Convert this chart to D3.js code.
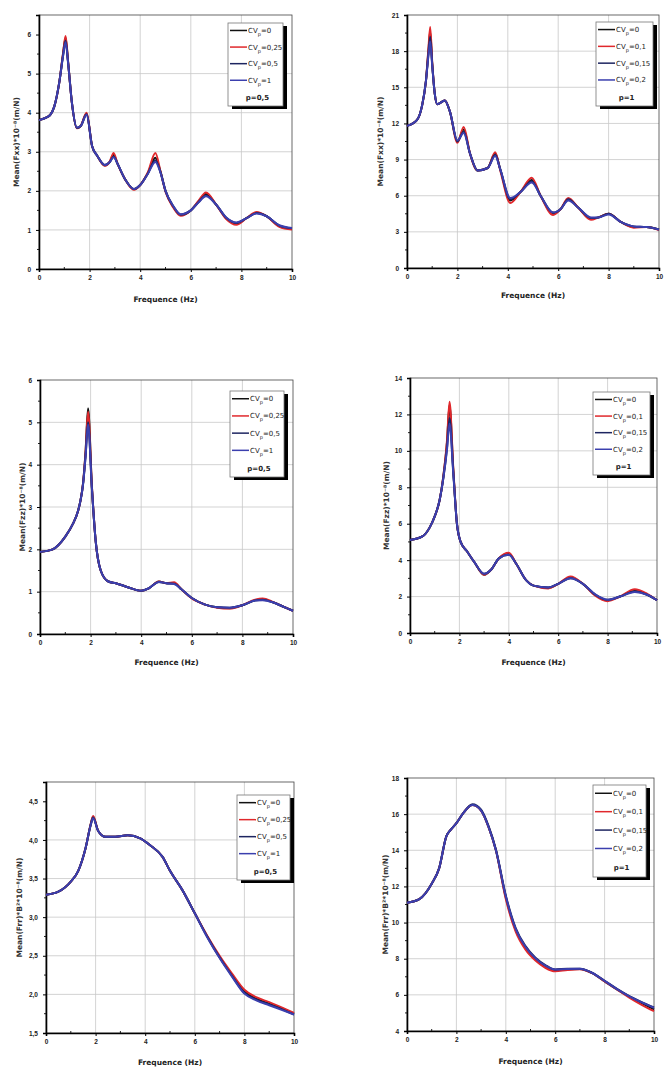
<!DOCTYPE html>
<html>
<head>
<meta charset="utf-8">
<script src="https://cdn.jsdelivr.net/npm/d3@7"></script>
<style>
  body { margin: 0; background: #fff; }
  svg { display: block; font-family: "DejaVu Sans", sans-serif; }
</style>
</head>
<body>
<svg id="chart"></svg>
<script>
// ---- data ----
const xTicks = [0, 2, 4, 6, 8, 10];
const seriesColors = ["#111111", "#e0282c", "#1d2560", "#3b3fae"];

const legendA = ["0", "0,25", "0,5", "1"];
const legendB = ["0", "0,1", "0,15", "0,2"];

// panel 1 : Fxx, p=0,5
const p1Freq = [0, 0.3, 0.45, 0.6, 0.8, 0.95, 1.05, 1.15, 1.3, 1.5, 1.65, 1.88, 2.1, 2.3, 2.6, 2.8, 2.95, 3.1, 3.4, 3.75, 4.0, 4.3, 4.6, 4.8, 5.0, 5.3, 5.6, 6.0, 6.3, 6.6, 7.0, 7.4, 7.8, 8.2, 8.6, 9.0, 9.5, 10];
const p1Cv0 = [3.81, 3.88, 3.95, 4.15, 4.77, 5.5, 5.92, 5.3, 4.26, 3.61, 3.66, 3.98, 3.14, 2.9, 2.65, 2.74, 2.92, 2.7, 2.3, 2.04, 2.15, 2.45, 2.85, 2.5, 2.0, 1.6, 1.38, 1.5, 1.72, 1.92, 1.65, 1.3, 1.16, 1.3, 1.44, 1.35, 1.1, 1.03];
const p1Cv1 = [3.81, 3.88, 3.95, 4.15, 4.77, 5.52, 5.96, 5.3, 4.26, 3.6, 3.66, 4.0, 3.14, 2.9, 2.64, 2.76, 2.97, 2.7, 2.3, 2.03, 2.15, 2.47, 2.97, 2.5, 1.98, 1.58, 1.36, 1.5, 1.74, 1.96, 1.65, 1.28, 1.13, 1.3, 1.46, 1.35, 1.08, 1.01];
const p1Cv2 = [3.81, 3.88, 3.95, 4.15, 4.77, 5.46, 5.85, 5.28, 4.26, 3.61, 3.66, 3.96, 3.14, 2.9, 2.66, 2.74, 2.88, 2.7, 2.3, 2.05, 2.15, 2.44, 2.78, 2.48, 2.0, 1.61, 1.39, 1.5, 1.71, 1.88, 1.65, 1.31, 1.18, 1.3, 1.43, 1.35, 1.11, 1.04];
const p1Cv3 = [3.81, 3.88, 3.95, 4.15, 4.77, 5.44, 5.8, 5.27, 4.26, 3.62, 3.66, 3.95, 3.14, 2.9, 2.66, 2.74, 2.86, 2.7, 2.3, 2.05, 2.15, 2.43, 2.74, 2.47, 2.0, 1.62, 1.4, 1.5, 1.7, 1.86, 1.65, 1.32, 1.19, 1.3, 1.42, 1.35, 1.12, 1.05];

// panel 2 : Fxx, p=1
const p2Freq = [0, 0.4, 0.6, 0.75, 0.85, 0.92, 1.0, 1.1, 1.2, 1.5, 1.7, 2.0, 2.25, 2.5, 2.8, 3.2, 3.5, 3.7, 4.1, 4.5, 4.95, 5.3, 5.8, 6.1, 6.4, 6.8, 7.3, 7.6, 8.0, 8.5, 9.0, 9.5, 10];
const p2Cv0 = [11.8, 12.3, 13.5, 15.5, 18.0, 19.6, 17.0, 14.5, 13.6, 13.9, 13.0, 10.5, 11.5, 9.5, 8.1, 8.3, 9.5, 8.2, 5.6, 6.3, 7.3, 6.0, 4.5, 4.9, 5.7, 5.0, 4.1, 4.2, 4.5, 3.8, 3.4, 3.4, 3.2];
const p2Cv1 = [11.8, 12.3, 13.5, 15.5, 18.2, 20.0, 17.1, 14.5, 13.6, 13.9, 13.0, 10.4, 11.7, 9.5, 8.1, 8.3, 9.6, 8.1, 5.4, 6.3, 7.5, 6.0, 4.4, 4.9, 5.8, 5.0, 4.0, 4.2, 4.5, 3.8, 3.35, 3.4, 3.15];
const p2Cv2 = [11.8, 12.3, 13.5, 15.5, 17.8, 19.2, 16.9, 14.5, 13.6, 13.9, 13.0, 10.5, 11.3, 9.5, 8.1, 8.3, 9.4, 8.2, 5.7, 6.3, 7.2, 6.0, 4.6, 4.9, 5.7, 5.0, 4.15, 4.2, 4.5, 3.8, 3.45, 3.4, 3.2];
const p2Cv3 = [11.8, 12.3, 13.5, 15.5, 17.6, 18.8, 16.8, 14.5, 13.6, 13.9, 13.0, 10.6, 11.2, 9.5, 8.1, 8.3, 9.3, 8.2, 5.8, 6.3, 7.1, 6.0, 4.6, 4.9, 5.6, 5.0, 4.2, 4.2, 4.45, 3.8, 3.45, 3.4, 3.2];

// panel 3 : Fzz, p=0,5
const p3Freq = [0, 0.5, 1.0, 1.3, 1.5, 1.6, 1.7, 1.8, 1.9, 2.05, 2.2, 2.4, 2.7, 3.0, 3.5, 4.0, 4.3, 4.7, 5.0, 5.3, 5.6, 6.0, 6.5, 7.0, 7.5, 8.0, 8.5, 8.8, 9.2, 9.6, 10];
const p3Cv0 = [1.94, 2.0, 2.3, 2.6, 2.9, 3.15, 3.55, 4.3, 5.33, 3.5, 2.2, 1.5, 1.24, 1.2, 1.1, 1.02, 1.08, 1.24, 1.2, 1.2, 1.05, 0.85, 0.7, 0.63, 0.61, 0.68, 0.8, 0.82, 0.75, 0.65, 0.55];
const p3Cv1 = [1.94, 2.0, 2.3, 2.6, 2.9, 3.15, 3.55, 4.28, 5.25, 3.5, 2.2, 1.5, 1.24, 1.2, 1.1, 1.02, 1.08, 1.24, 1.2, 1.22, 1.05, 0.84, 0.7, 0.62, 0.6, 0.68, 0.81, 0.84, 0.76, 0.65, 0.55];
const p3Cv2 = [1.94, 2.0, 2.3, 2.6, 2.9, 3.15, 3.53, 4.2, 5.0, 3.45, 2.2, 1.5, 1.24, 1.2, 1.1, 1.02, 1.08, 1.23, 1.2, 1.19, 1.05, 0.85, 0.7, 0.63, 0.62, 0.68, 0.79, 0.81, 0.75, 0.65, 0.55];
const p3Cv3 = [1.94, 2.0, 2.3, 2.6, 2.9, 3.15, 3.52, 4.18, 4.95, 3.45, 2.2, 1.5, 1.24, 1.2, 1.1, 1.02, 1.08, 1.23, 1.2, 1.18, 1.05, 0.85, 0.7, 0.63, 0.62, 0.68, 0.79, 0.8, 0.75, 0.65, 0.55];

// panel 4 : Fzz, p=1
const p4Freq = [0, 0.5, 0.8, 1.0, 1.2, 1.35, 1.5, 1.6, 1.75, 1.9, 2.05, 2.3, 2.6, 3.0, 3.3, 3.6, 4.0, 4.3, 4.7, 5.0, 5.6, 6.0, 6.5, 7.0, 7.5, 8.0, 8.5, 9.1, 9.6, 10];
const p4Cv0 = [5.1, 5.3, 5.8, 6.4, 7.3, 8.6, 10.5, 12.5, 9.0, 6.0, 5.0, 4.5, 3.9, 3.2, 3.5, 4.1, 4.35, 3.8, 2.9, 2.6, 2.48, 2.7, 3.05, 2.7, 2.1, 1.8, 2.0, 2.3, 2.1, 1.8];
const p4Cv1 = [5.1, 5.3, 5.8, 6.4, 7.3, 8.6, 10.6, 12.7, 9.1, 6.0, 5.0, 4.5, 3.9, 3.2, 3.5, 4.1, 4.4, 3.8, 2.9, 2.6, 2.45, 2.7, 3.1, 2.7, 2.05, 1.75, 2.0, 2.4, 2.15, 1.8];
const p4Cv2 = [5.1, 5.3, 5.8, 6.4, 7.3, 8.5, 10.2, 11.8, 8.9, 6.0, 5.0, 4.5, 3.9, 3.25, 3.5, 4.1, 4.3, 3.8, 2.9, 2.6, 2.5, 2.7, 3.0, 2.7, 2.1, 1.82, 2.0, 2.28, 2.1, 1.8];
const p4Cv3 = [5.1, 5.3, 5.8, 6.4, 7.3, 8.5, 10.1, 11.5, 8.8, 6.0, 5.0, 4.5, 3.9, 3.25, 3.5, 4.1, 4.3, 3.8, 2.9, 2.6, 2.5, 2.7, 3.0, 2.7, 2.12, 1.83, 2.0, 2.25, 2.1, 1.8];

// panel 5 : Frr, p=0,5
const p5Freq = [0, 0.5, 1.0, 1.3, 1.6, 1.8, 1.9, 2.1, 2.4, 2.8, 3.3, 3.8, 4.2, 4.7, 5.0, 5.5, 6.0, 6.5, 7.0, 7.5, 8.0, 8.5, 9.0, 9.5, 10];
const p5Cv0 = [3.29, 3.33, 3.46, 3.6, 3.9, 4.2, 4.3, 4.12, 4.04, 4.04, 4.06, 4.02, 3.93, 3.78, 3.6, 3.35, 3.05, 2.75, 2.48, 2.25, 2.04, 1.94, 1.88, 1.82, 1.75];
const p5Cv1 = [3.29, 3.33, 3.46, 3.6, 3.9, 4.2, 4.31, 4.12, 4.04, 4.04, 4.06, 4.02, 3.93, 3.78, 3.6, 3.35, 3.05, 2.76, 2.5, 2.27, 2.06, 1.96, 1.9, 1.83, 1.76];
const p5Cv2 = [3.29, 3.33, 3.46, 3.6, 3.9, 4.19, 4.29, 4.12, 4.04, 4.04, 4.06, 4.02, 3.93, 3.78, 3.6, 3.35, 3.05, 2.75, 2.48, 2.24, 2.02, 1.93, 1.87, 1.81, 1.74];
const p5Cv3 = [3.29, 3.33, 3.46, 3.6, 3.9, 4.19, 4.28, 4.12, 4.04, 4.04, 4.06, 4.02, 3.93, 3.78, 3.6, 3.35, 3.05, 2.74, 2.47, 2.23, 2.01, 1.92, 1.86, 1.8, 1.74];

// panel 6 : Frr, p=1
const p6Freq = [0, 0.5, 1.0, 1.3, 1.6, 1.75, 2.0, 2.3, 2.65, 3.0, 3.3, 3.6, 4.0, 4.4, 4.8, 5.2, 5.6, 6.0, 6.5, 7.0, 7.5, 8.0, 8.5, 9.0, 9.5, 10];
const p6Cv0 = [11.1, 11.3, 12.15, 13.0, 14.8, 15.1, 15.5, 16.1, 16.5, 16.2, 15.3, 14.0, 11.4, 9.6, 8.6, 8.0, 7.6, 7.38, 7.42, 7.43, 7.2, 6.75, 6.3, 5.9, 5.55, 5.2];
const p6Cv1 = [11.1, 11.3, 12.15, 13.0, 14.8, 15.1, 15.5, 16.1, 16.5, 16.2, 15.3, 14.0, 11.3, 9.5, 8.5, 7.9, 7.5, 7.3, 7.38, 7.42, 7.2, 6.75, 6.3, 5.85, 5.45, 5.1];
const p6Cv2 = [11.1, 11.3, 12.15, 13.0, 14.8, 15.1, 15.5, 16.1, 16.55, 16.25, 15.35, 14.05, 11.5, 9.7, 8.7, 8.05, 7.65, 7.4, 7.45, 7.45, 7.22, 6.78, 6.33, 5.93, 5.6, 5.3];
const p6Cv3 = [11.1, 11.3, 12.15, 13.0, 14.8, 15.1, 15.5, 16.1, 16.5, 16.2, 15.3, 14.0, 11.45, 9.65, 8.65, 8.02, 7.62, 7.4, 7.43, 7.44, 7.21, 6.77, 6.32, 5.92, 5.58, 5.28];

// ---- layout ----
const W = 667, H = 1068;
const svg = d3.select("#chart").attr("width", W).attr("height", H);

const panels = [
  { freq: p1Freq, ys: [p1Cv0, p1Cv1, p1Cv2, p1Cv3], yDomain: [0, 6.5], yTicks: [0, 1, 2, 3, 4, 5, 6],
    box: [39, 15, 292, 269], yLabel: "Mean(Fxx)*10⁻⁸(m/N)", yLabelX: 19, xLabelY: 302,
    legend: legendA, p: "p=0,5", lg: [228, 23, 283, 106], fmt: d => d },
  { freq: p2Freq, ys: [p2Cv0, p2Cv1, p2Cv2, p2Cv3], yDomain: [0, 21], yTicks: [0, 3, 6, 9, 12, 15, 18, 21],
    box: [407, 15, 659, 268], yLabel: "Mean(Fxx)*10⁻⁸(m/N)", yLabelX: 383, xLabelY: 298,
    legend: legendB, p: "p=1", lg: [596, 22, 653, 106], fmt: d => d },
  { freq: p3Freq, ys: [p3Cv0, p3Cv1, p3Cv2, p3Cv3], yDomain: [0, 6], yTicks: [0, 1, 2, 3, 4, 5, 6],
    box: [40, 380, 293, 634], yLabel: "Mean(Fzz)*10⁻⁸(m/N)", yLabelX: 25, xLabelY: 665,
    legend: legendA, p: "p=0,5", lg: [230, 391, 284, 477], fmt: d => d },
  { freq: p4Freq, ys: [p4Cv0, p4Cv1, p4Cv2, p4Cv3], yDomain: [0, 14], yTicks: [0, 2, 4, 6, 8, 10, 12, 14],
    box: [410, 378, 657, 633], yLabel: "Mean(Fzz)*10⁻⁸(m/N)", yLabelX: 389, xLabelY: 665,
    legend: legendB, p: "p=1", lg: [593, 392, 650, 475], fmt: d => d },
  { freq: p5Freq, ys: [p5Cv0, p5Cv1, p5Cv2, p5Cv3], yDomain: [1.5, 4.75], yTicks: [1.5, 2, 2.5, 3, 3.5, 4, 4.5],
    box: [46, 782, 294, 1033], yLabel: "Mean(Frr)*B²*10⁻⁸(m/N)", yLabelX: 22, xLabelY: 1065,
    legend: legendA, p: "p=0,5", lg: [237, 795, 290, 880], fmt: d => d3.format(".1f")(d).replace(".", ",") },
  { freq: p6Freq, ys: [p6Cv0, p6Cv1, p6Cv2, p6Cv3], yDomain: [4, 18], yTicks: [4, 6, 8, 10, 12, 14, 16, 18],
    box: [407, 778, 654, 1031], yLabel: "Mean(Frr)*B²*10⁻⁸(m/N)", yLabelX: 388, xLabelY: 1064,
    legend: legendB, p: "p=1", lg: [593, 785, 646, 877], fmt: d => d }
];

panels.forEach(P => {
  const [x0, y0, x1, y1] = P.box;
  const g = svg.append("g");

  const x = d3.scaleLinear().domain([0, 10]).range([x0, x1]);
  const y = d3.scaleLinear().domain(P.yDomain).range([y1, y0]);

  // grid
  g.append("g").selectAll("line").data(xTicks.slice(1, -1)).join("line")
    .attr("x1", d => x(d)).attr("x2", d => x(d)).attr("y1", y0).attr("y2", y1)
    .attr("stroke", "#c8c8c8").attr("stroke-width", 0.8);
  g.append("g").selectAll("line").data(P.yTicks.slice(1, -1)).join("line")
    .attr("x1", x0).attr("x2", x1).attr("y1", d => y(d)).attr("y2", d => y(d))
    .attr("stroke", "#c8c8c8").attr("stroke-width", 0.8);

  // frame
  g.append("rect").attr("x", x0).attr("y", y0).attr("width", x1 - x0).attr("height", y1 - y0)
    .attr("fill", "none").attr("stroke", "#444").attr("stroke-width", 0.8);

  // minor ticks
  const minorX = d3.range(1, 10, 2);
  g.append("g").selectAll("line").data(minorX).join("line")
    .attr("x1", d => x(d)).attr("x2", d => x(d)).attr("y1", y1).attr("y2", y1 - 2)
    .attr("stroke", "#222");
  const yStep = P.yTicks[1] - P.yTicks[0];
  g.append("g").selectAll("line").data(P.yTicks.slice(0, -1).map(d => d + yStep / 2)).join("line")
    .attr("x1", x0).attr("x2", x0 - 2).attr("y1", d => y(d)).attr("y2", d => y(d))
    .attr("stroke", "#222");

  const ax = g.append("g").attr("transform", `translate(0,${y1})`)
    .call(d3.axisBottom(x).tickValues(xTicks).tickSize(3).tickPadding(3));
  const ay = g.append("g").attr("transform", `translate(${x0},0)`)
    .call(d3.axisLeft(y).tickValues(P.yTicks).tickFormat(P.fmt).tickSize(3).tickPadding(5));
  [ax, ay].forEach(a => {
    a.select(".domain").attr("stroke", "#000").attr("stroke-width", 1.6);
    a.selectAll(".tick line").attr("stroke", "#000").attr("stroke-width", 1);
    a.selectAll("text").attr("font-size", 6.5).attr("font-weight", "bold").attr("fill", "#222");
  });

  // curves
  const line = d3.line().curve(d3.curveMonotoneX)
    .x((d, i) => x(P.freq[i])).y(d => y(d));
  P.ys.forEach((vals, k) => {
    g.append("path").datum(vals)
      .attr("fill", "none").attr("stroke", seriesColors[k])
      .attr("stroke-width", 2).attr("stroke-linejoin", "round")
      .attr("d", line);
  });

  // axis labels
  g.append("text").attr("x", (x0 + x1) / 2).attr("y", P.xLabelY)
    .attr("text-anchor", "middle").attr("font-size", 7.5).attr("font-weight", "bold").attr("fill", "#222")
    .text("Frequence (Hz)");
  g.append("text").attr("transform", `translate(${P.yLabelX},${(y0 + y1) / 2}) rotate(-90)`)
    .attr("text-anchor", "middle").attr("font-size", 7.5).attr("font-weight", "bold").attr("fill", "#333")
    .text(P.yLabel);

  // legend
  const [lx0, ly0, lx1, ly1] = P.lg;
  g.append("rect").attr("x", lx0 + 4).attr("y", ly0 + 3).attr("width", lx1 - lx0).attr("height", ly1 - ly0)
    .attr("fill", "#000");
  g.append("rect").attr("x", lx0).attr("y", ly0).attr("width", lx1 - lx0).attr("height", ly1 - ly0)
    .attr("fill", "#fff").attr("stroke", "#777").attr("stroke-width", 0.8);
  const rowH = (ly1 - ly0) / 5;
  P.legend.forEach((lab, k) => {
    const cy = ly0 + rowH * (k + 0.45);
    g.append("line").attr("x1", lx0 + 2).attr("x2", lx0 + 19).attr("y1", cy).attr("y2", cy)
      .attr("stroke", seriesColors[k]).attr("stroke-width", 1.5);
    const t = g.append("text").attr("x", lx0 + 20).attr("y", cy + 2.5)
      .attr("font-size", 7).attr("fill", "#222");
    t.append("tspan").text("CV");
    t.append("tspan").attr("font-size", 5).attr("dy", 3).text("p");
    t.append("tspan").attr("dy", -3).text("=" + lab);
  });
  g.append("text").attr("x", (lx0 + lx1) / 2 + 2).attr("y", ly0 + rowH * 4.45 + 3)
    .attr("text-anchor", "middle").attr("font-size", 7).attr("font-weight", "bold").attr("fill", "#222")
    .text(P.p);
});
</script>
</body>
</html>
